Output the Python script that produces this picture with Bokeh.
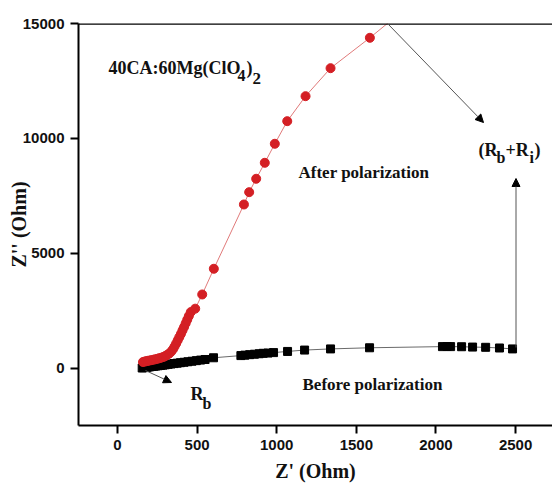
from bokeh.plotting import figure
from bokeh.models import Range1d, FixedTicker, Span, Arrow, NormalHead, Label
from bokeh.embed import file_html
from bokeh.resources import INLINE

# Before polarization (black squares)
before_x = [155, 165, 175, 185, 195, 205, 215, 228, 240, 255, 270, 285, 300, 318, 336, 355, 375, 395,
            418, 442, 468, 495, 522, 550, 603, 775, 800, 830, 860, 890, 915, 945, 980, 1068, 1175,
            1338, 1583, 2041, 2070, 2092, 2161, 2230, 2312, 2399, 2481]
before_y = [20, 35, 45, 55, 65, 75, 85, 95, 105, 118, 130, 145, 160, 178, 195, 212, 230, 250,
            270, 292, 315, 340, 365, 390, 465, 560, 580, 600, 620, 640, 660, 670, 690, 740, 800,
            850, 900, 950, 955, 950, 945, 930, 920, 890, 850]

# After polarization (red circles)
after_x = [160, 170, 180, 190, 200, 212, 225, 238, 250, 262, 275, 288, 300, 312, 325, 337, 348, 358,
           368, 378, 388, 398, 408, 418, 428, 438, 448, 460, 488, 532, 605, 794, 827, 871, 925, 988,
           1066, 1181, 1338, 1585, 1800]
after_y = [280, 300, 315, 330, 345, 360, 380, 400, 420, 445, 470, 500, 540, 590, 650, 730, 830, 950,
           1080, 1220, 1360, 1500, 1650, 1800, 1960, 2120, 2280, 2450, 2600, 3217, 4335, 7130, 7666,
           8248, 8943, 9770, 10753, 11840, 13057, 14378, 15600]

x_ticks = [0, 500, 1000, 1500, 2000, 2500]
y_ticks = [0, 5000, 10000, 15000]

X0, X1 = -245, 2732
Y0, Y1 = -2480, 15000
FL, FT, FW, FH = 78, 23, 474, 402


def dx(px):
    return X0 + (px - FL) / FW * (X1 - X0)


def dy(py):
    return Y1 - (py - FT) / FH * (Y1 - Y0)


p = figure(width=552, height=493, output_backend="svg", toolbar_location=None,
           x_range=Range1d(X0, X1), y_range=Range1d(Y0, Y1),
           min_border_left=FL, min_border_top=FT, min_border_right=0, min_border_bottom=68)
p.outline_line_color = None
p.grid.visible = False
p.background_fill_color = "white"
p.border_fill_color = "white"

for ax in (p.xaxis[0], p.yaxis[0]):
    ax.axis_line_width = 2
    ax.major_tick_line_width = 2
    ax.major_tick_out = 8
    ax.major_tick_in = 0
    ax.minor_tick_out = 0
    ax.minor_tick_in = 0
    ax.major_label_text_font = "Liberation Sans"
    ax.major_label_text_font_style = "bold"
    ax.major_label_text_font_size = "15px"
    ax.major_label_text_color = "#111111"
    ax.axis_label_text_font = "Liberation Serif"
    ax.axis_label_text_font_style = "bold"
    ax.axis_label_text_font_size = "20px"
    ax.axis_label_text_color = "#111111"

p.xaxis.ticker = FixedTicker(ticks=x_ticks)
p.yaxis.ticker = FixedTicker(ticks=y_ticks)
p.xaxis.axis_label = "Z' (Ohm)"
p.yaxis.axis_label = "Z'' (Ohm)"
p.xaxis.major_label_standoff = 6
p.xaxis.axis_label_standoff = 7
p.yaxis.major_label_standoff = 6
p.yaxis.axis_label_standoff = -10

p.add_layout(Span(location=Y1, dimension="width", line_color="black", line_width=2.5))

# series
p.line(before_x, before_y, line_color="#444444", line_width=0.8)
p.scatter(before_x, before_y, marker="square", size=8, fill_color="black", line_color="black")
p.line(after_x, after_y, line_color="#e07a7a", line_width=1)
p.scatter(after_x, after_y, marker="circle", size=9, fill_color="#d41f24", line_color="#d41f24")


# arrows
def arrow(x0, y0, x1, y1):
    p.add_layout(Arrow(end=NormalHead(size=8, fill_color="black", line_color="black"),
                       x_start=dx(x0), y_start=dy(y0), x_end=dx(x1), y_end=dy(y1),
                       line_color="#555555", line_width=1))


arrow(388, 24, 483, 122)
arrow(515.5, 347, 515.5, 178)
arrow(145, 370, 171, 382)

SERIF = "Liberation Serif"


def txt(s, px, py, size="18px", align="left"):
    p.add_layout(Label(x=dx(px), y=dy(py), text=s, text_font=SERIF, text_font_style="bold",
                       text_font_size=size, text_align=align, text_baseline="middle",
                       text_color="#111111"))


txt("40CA:60Mg(ClO", 108, 67)
txt("4", 237, 75, "16px")
txt(")", 246, 67)
txt("2", 252, 78, "17px")
txt("After polarization", 298, 172, "17px")
txt("Before polarization", 302, 384, "17px")
txt("(R", 478, 149)
txt("b", 496, 157, "16px")
txt("+R", 505, 149)
txt("i", 529, 157, "16px")
txt(")", 534, 149)
txt("R", 190, 393)
txt("b", 202, 403, "16px")
txt(")", 1, 479, "18px")

open("out.html", "w").write(file_html(p, INLINE))
